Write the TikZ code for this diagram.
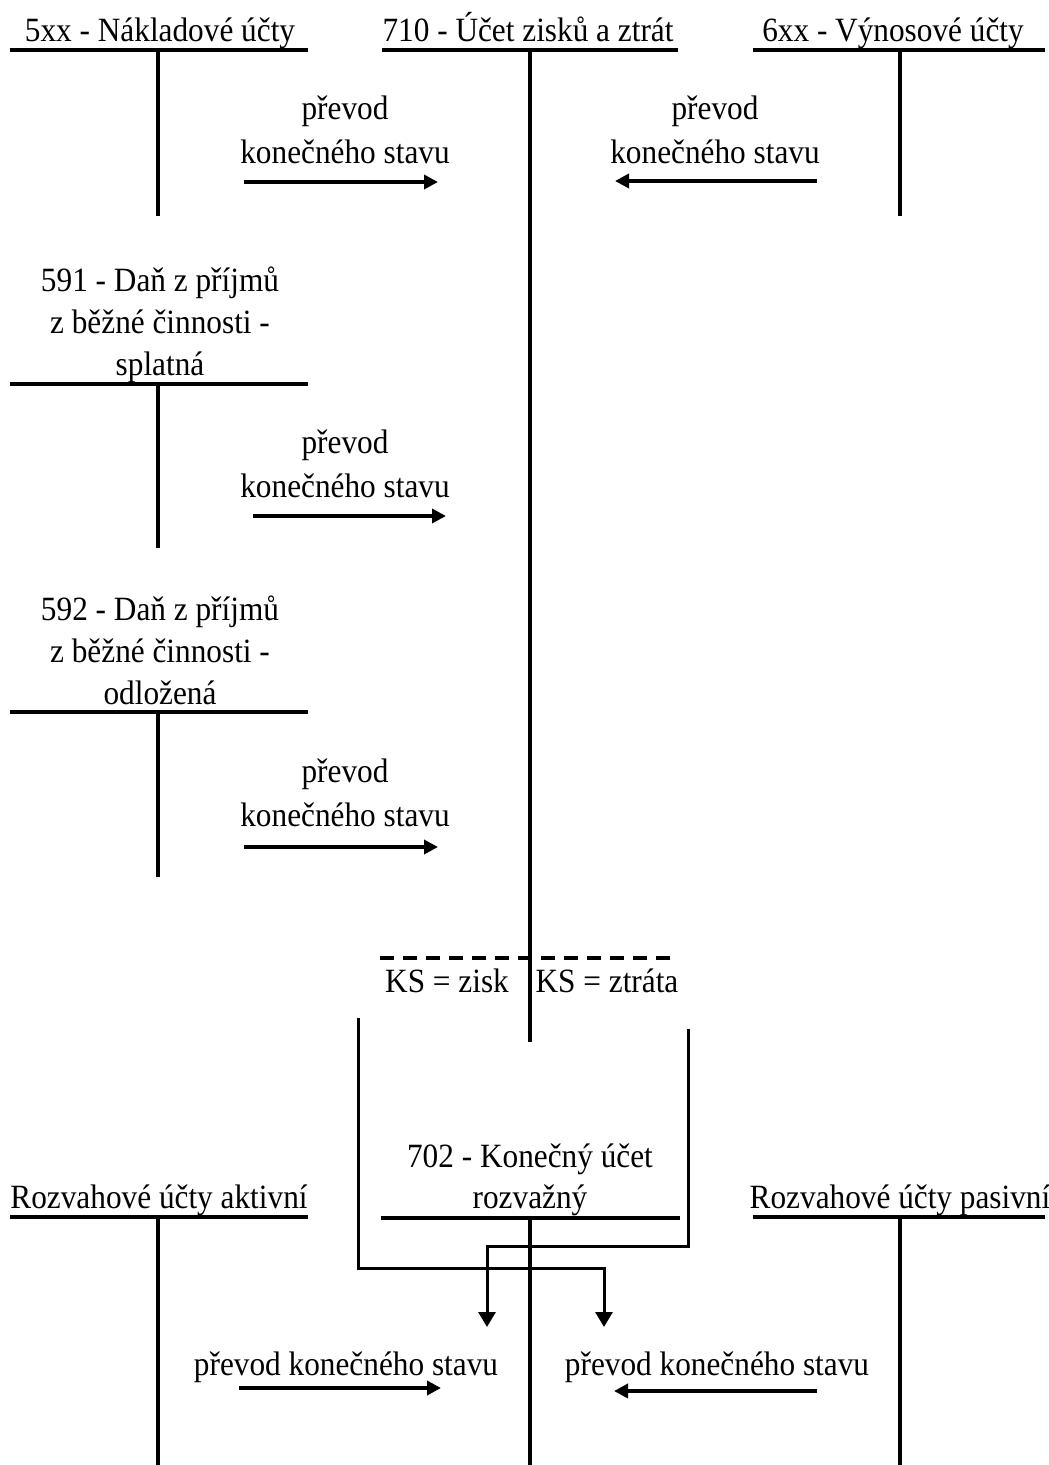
\documentclass[tikz,border=0pt]{standalone}
\usepackage{fontspec}
\setmainfont[FakeStretch=0.92]{Liberation Serif}
\usetikzlibrary{arrows.meta}

\begin{document}
\begin{tikzpicture}[x=1pt,y=-1pt,
  lbl/.style={inner sep=0pt, anchor=base, font=\fontsize{34}{43}\selectfont},
  tbar/.style={line width=4.5pt},
  transfer/.style={line width=4pt, -{Triangle[length=14pt,width=14pt]}},
  closing/.style={line width=3pt, -{Triangle[length=15pt,width=17pt]}},
  ksline/.style={line width=4pt, dash pattern=on 14pt off 9pt},
]
\useasboundingbox (0,0) rectangle (1049,1465);

% ---------- T-accounts: title bar and stem ----------
% 5xx
\coordinate (n5L) at (10,50);  \coordinate (n5R) at (308,50);
\coordinate (n5T) at (158,50); \coordinate (n5B) at (158,216);
% 710
\coordinate (zzL) at (382,50);  \coordinate (zzR) at (678,50);
\coordinate (zzT) at (530,50);  \coordinate (zzB) at (530,1042);
% 6xx
\coordinate (v6L) at (753,50);  \coordinate (v6R) at (1045,50);
\coordinate (v6T) at (900,50);  \coordinate (v6B) at (900,216);
% 591
\coordinate (d1L) at (10,384);  \coordinate (d1R) at (308,384);
\coordinate (d1T) at (158,384); \coordinate (d1B) at (158,548);
% 592
\coordinate (d2L) at (10,712);  \coordinate (d2R) at (308,712);
\coordinate (d2T) at (158,712); \coordinate (d2B) at (158,877);
% 702
\coordinate (kuL) at (381,1218); \coordinate (kuR) at (680,1218);
\coordinate (kuT) at (530,1218); \coordinate (kuB) at (530,1465);
% balance sheet accounts
\coordinate (raL) at (10,1217);  \coordinate (raR) at (308,1217);
\coordinate (raT) at (158,1217); \coordinate (raB) at (158,1465);
\coordinate (rpL) at (753,1217); \coordinate (rpR) at (1045,1217);
\coordinate (rpT) at (900,1217); \coordinate (rpB) at (900,1465);

\foreach \a in {n5,zz,v6,d1,d2,ku,ra,rp}{
  \draw[tbar] (\a L) -- (\a R);
  \draw[tbar] (\a T) -- (\a B);
}

% ---------- account titles ----------
\node[lbl] (t5xx) at (160,41) {5xx - Nákladové účty};
\node[lbl] (t710) at (528,41) {710 - Účet zisků a ztrát};
\node[lbl] (t6xx) at (893,41) {6xx - Výnosové účty};

\node[lbl] (t591a) at (160,291) {591 - Daň z příjmů};
\node[lbl] (t591b) at (160,333) {z běžné činnosti -};
\node[lbl] (t591c) at (160,375) {splatná};

\node[lbl] (t592a) at (160,620) {592 - Daň z příjmů};
\node[lbl] (t592b) at (160,662) {z běžné činnosti -};
\node[lbl] (t592c) at (160,704) {odložená};

\node[lbl] (t702a) at (530,1167) {702 - Konečný účet};
\node[lbl] (t702b) at (530,1208) {rozvažný};

\node[lbl] (tra) at (159,1208) {Rozvahové účty aktivní};
\node[lbl] (trp) at (900,1208) {Rozvahové účty pasivní};

% ---------- transfers of the closing balance ----------
\node[lbl] (p5a) at (345,119) {převod};
\node[lbl] (p5b) at (345,163) {konečného stavu};
\coordinate (a5s) at (244,182); \coordinate (a5e) at (438,182);
\draw[transfer] (a5s) -- (a5e);

\node[lbl] (p6a) at (715,119) {převod};
\node[lbl] (p6b) at (715,163) {konečného stavu};
\coordinate (a6s) at (817,181); \coordinate (a6e) at (615,181);
\draw[transfer] (a6s) -- (a6e);

\node[lbl] (p1a) at (345,453) {převod};
\node[lbl] (p1b) at (345,497) {konečného stavu};
\coordinate (a1s) at (253,516); \coordinate (a1e) at (446,516);
\draw[transfer] (a1s) -- (a1e);

\node[lbl] (p2a) at (345,782) {převod};
\node[lbl] (p2b) at (345,826) {konečného stavu};
\coordinate (a2s) at (244,847); \coordinate (a2e) at (438,847);
\draw[transfer] (a2s) -- (a2e);

\node[lbl] (pra) at (346,1375) {převod konečného stavu};
\coordinate (ras) at (239,1388); \coordinate (rae) at (441,1388);
\draw[transfer] (ras) -- (rae);

\node[lbl] (prp) at (717,1375) {převod konečného stavu};
\coordinate (rps) at (817,1391); \coordinate (rpe) at (614,1391);
\draw[transfer] (rps) -- (rpe);

% ---------- closing balance of 710 ----------
\coordinate (dL) at (380,958); \coordinate (dR) at (675,958);
\draw[ksline] (dL) -- (dR);
\node[lbl] (kszisk) at (447,992) {KS = zisk};
\node[lbl] (ksztrata) at (607,992) {KS = ztráta};

\coordinate (zs) at (358,1018); \coordinate (ze) at (604,1327);
\coordinate (ls) at (688,1029); \coordinate (le) at (487,1327);
\draw[closing] (zs) -- (358,1268) -| (ze);
\draw[closing] (ls) -- (688,1246) -| (le);

\end{tikzpicture}
\end{document}
